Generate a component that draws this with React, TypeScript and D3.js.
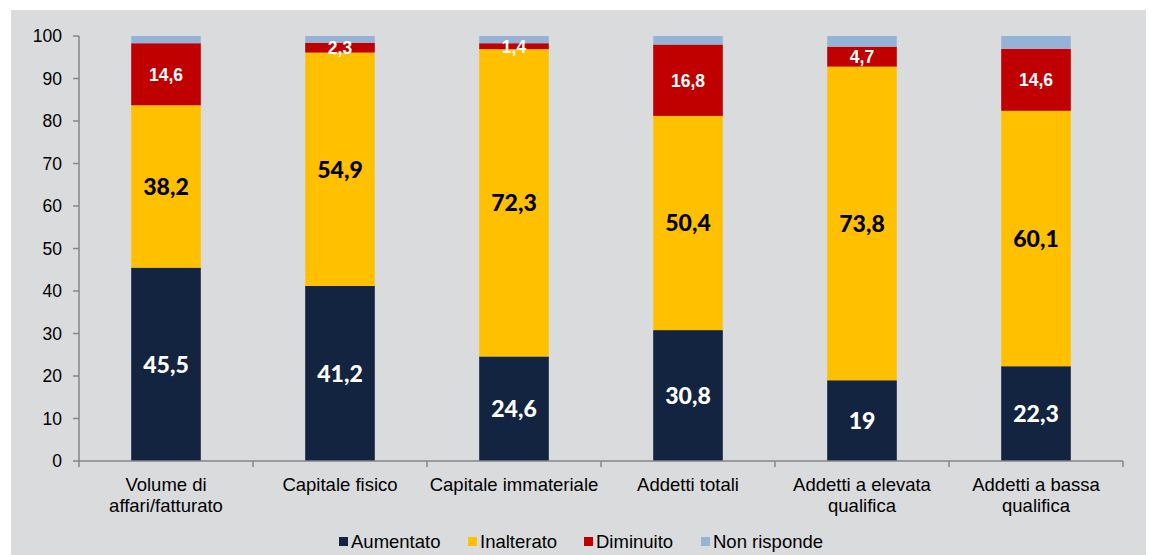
import React from "react";
import * as d3 from "d3";

const categories: string[][] = [
  ["Volume di", "affari/fatturato"],
  ["Capitale fisico"],
  ["Capitale immateriale"],
  ["Addetti totali"],
  ["Addetti a elevata", "qualifica"],
  ["Addetti a bassa", "qualifica"],
];
const aumentato = [45.5, 41.2, 24.6, 30.8, 19, 22.3];
const inalterato = [38.2, 54.9, 72.3, 50.4, 73.8, 60.1];
const diminuito = [14.6, 2.3, 1.4, 16.8, 4.7, 14.6];
const nonRisponde = [1.7, 1.6, 1.7, 2.0, 2.5, 3.0];
const seriesNames = ["Aumentato", "Inalterato", "Diminuito", "Non risponde"];
const yTicks = [0, 10, 20, 30, 40, 50, 60, 70, 80, 90, 100];

const colors = ["#12243f", "#ffc000", "#c00000", "#95b3d7"];

export default function App() {
  const W = 1151, H = 555;
  const x0 = 79, x1 = 1123, yTop = 36, yBot = 461;
  const x = d3.scaleBand<number>().domain(d3.range(categories.length)).range([x0, x1]).paddingInner(0.6).paddingOuter(0.3);
  const y = d3.scaleLinear().domain([0, 100]).range([yBot, yTop]);
  const data = categories.map((_, i) => ({
    i, s0: aumentato[i], s1: inalterato[i], s2: diminuito[i], s3: nonRisponde[i],
  }));
  const stack = d3.stack<any>().keys(["s0", "s1", "s2", "s3"])(data);
  const fmt = (v: number) => String(v).replace(".", ",");
  const step = (x1 - x0) / categories.length;
  const arial = "'Liberation Sans', Arial, sans-serif";

  return (
    <svg width={W} height={H} style={{ position: "absolute", left: 0, top: 0 }}>
      <rect x={0} y={0} width={W} height={H} fill="#ffffff" />
      <rect x={11} y={10} width={1135} height={H - 10} fill="#dadbdd" />
      {stack.map((layer, si) =>
        layer.map((d, i) => (
          <rect key={si + "-" + i} x={x(i)} width={x.bandwidth()} y={y(d[1])} height={y(d[0]) - y(d[1])} fill={colors[si]} />
        ))
      )}
      {stack.slice(0, 3).map((layer, si) =>
        layer.map((d, i) => {
          const v = [aumentato, inalterato, diminuito][si][i];
          const cy = (y(d[0]) + y(d[1])) / 2;
          const big = si < 2;
          return (
            <text key={"l" + si + "-" + i} x={x(i)! + x.bandwidth() / 2} y={cy} dy="0.36em" textAnchor="middle"
              fontFamily={big ? "Lato, sans-serif" : arial}
              fontWeight={big ? 900 : "bold"} fontSize={big ? 23 : 17.5} fill={si === 1 ? "#000000" : "#ffffff"}>
              {fmt(v)}
            </text>
          );
        })
      )}
      {/* y axis */}
      <line x1={x0} x2={x0} y1={yTop} y2={yBot} stroke="#868686" strokeWidth={1.5} />
      {yTicks.map((t) => (
        <g key={t}>
          <line x1={x0 - 6} x2={x0} y1={y(t)} y2={y(t)} stroke="#868686" strokeWidth={1.5} />
          <text x={62} y={y(t)} dy="0.36em" textAnchor="end" fontFamily={arial} fontSize={17.5} fill="#000">{t}</text>
        </g>
      ))}
      {/* x axis */}
      <line x1={x0} x2={x1} y1={yBot} y2={yBot} stroke="#868686" strokeWidth={1.5} />
      {d3.range(categories.length + 1).map((k) => (
        <line key={k} x1={x0 + k * step} x2={x0 + k * step} y1={yBot} y2={yBot + 6} stroke="#868686" strokeWidth={1.5} />
      ))}
      {categories.map((lines, i) => (
        <text key={"c" + i} x={x(i)! + x.bandwidth() / 2} y={491} textAnchor="middle" fontFamily={arial} fontSize={18.5} fill="#000">
          {lines.map((l, j) => (
            <tspan key={j} x={x(i)! + x.bandwidth() / 2} dy={j === 0 ? 0 : 20.5}>{l}</tspan>
          ))}
        </text>
      ))}
      {/* legend */}
      {seriesNames.map((n, k) => {
        const lx = [339, 468, 584, 701][k];
        return (
          <g key={n}>
            <rect x={lx} y={537} width={9} height={9} fill={colors[k]} />
            <text x={lx + 12} y={548} fontFamily={arial} fontSize={18.5} fill="#000">{n}</text>
          </g>
        );
      })}
    </svg>
  );
}
